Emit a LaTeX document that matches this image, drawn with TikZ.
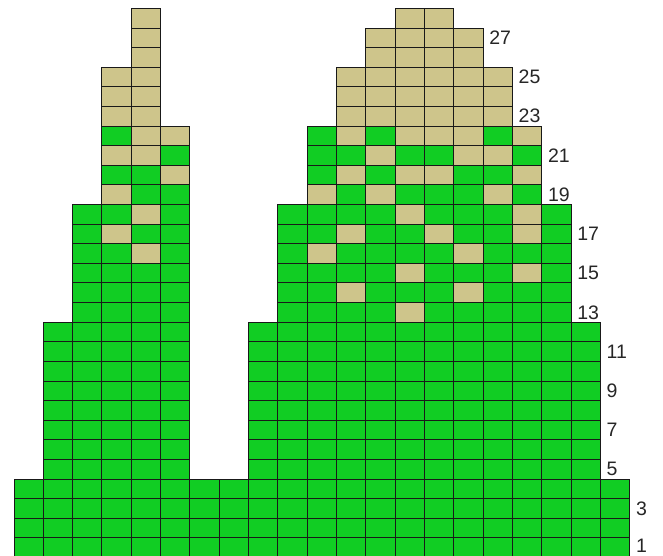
\documentclass[tikz,border=0pt]{standalone}
\usepackage{fontspec}
\setmainfont{Liberation Sans}
\definecolor{G}{RGB}{17,205,35}
\definecolor{T}{RGB}{206,197,139}
\begin{document}
\begin{tikzpicture}
\useasboundingbox (0pt,0pt) rectangle (663pt,556pt);
\begin{scope}[shift={(14pt,-1.5pt)}, x=29.33pt, y=19.61pt,
  cell/.style={draw=black!90, line width=1pt},
  lab/.style={anchor=west, inner sep=0pt, font=\fontsize{19.5}{21}\selectfont, text=black!85}]
% full-width rows 1-4
\foreach \r in {1,...,4} \foreach \c in {0,...,20}
  \filldraw[cell, fill=G] (\c,\r-1) rectangle ++(1,1);
% rows 5-12, left block
\foreach \r in {5,...,12} \foreach \c in {1,...,5}
  \filldraw[cell, fill=G] (\c,\r-1) rectangle ++(1,1);
% rows 5-12, right block
\foreach \r in {5,...,12} \foreach \c in {8,...,19}
  \filldraw[cell, fill=G] (\c,\r-1) rectangle ++(1,1);
% patterned rows
\foreach \r/\c/\s in {
  13/2/{G,G,G,G}, 14/2/{G,G,G,G}, 15/2/{G,G,G,G},
  16/2/{G,G,T,G}, 17/2/{G,T,G,G}, 18/2/{G,G,T,G},
  19/3/{T,G,G}, 20/3/{G,G,T}, 21/3/{T,T,G}, 22/3/{G,T,T},
  23/3/{T,T}, 24/3/{T,T}, 25/3/{T,T},
  26/4/{T}, 27/4/{T}, 28/4/{T},
  13/9/{G,G,G,G,T,G,G,G,G,G}, 14/9/{G,G,T,G,G,G,T,G,G,G},
  15/9/{G,G,G,G,T,G,G,G,T,G}, 16/9/{G,T,G,G,G,G,T,G,G,G},
  17/9/{G,G,T,G,G,T,G,G,T,G}, 18/9/{G,G,G,G,T,G,G,G,T,G},
  19/10/{T,G,T,G,G,G,T,G}, 20/10/{G,T,G,T,T,G,G,T},
  21/10/{G,G,T,G,G,T,T,G}, 22/10/{G,T,G,T,T,T,G,T},
  23/11/{T,T,T,T,T,T}, 24/11/{T,T,T,T,T,T}, 25/11/{T,T,T,T,T,T},
  26/12/{T,T,T,T}, 27/12/{T,T,T,T}, 28/13/{T,T}}
{
  \foreach \k [count=\i from 0] in \s
    \filldraw[cell, fill=\k] (\c+\i,\r-1) rectangle ++(1,1);
}
% row numbers
\node[lab] (n1) at (21.2,0.62) {1};
\foreach \r/\e in {3/21,5/20,7/20,9/20,11/20,13/19,15/19,17/19,19/18,21/18,23/17,25/17,27/16}
  \node[lab] (n\r) at (\e+0.2,\r-0.5) {\r};
\end{scope}
\end{tikzpicture}
\end{document}
